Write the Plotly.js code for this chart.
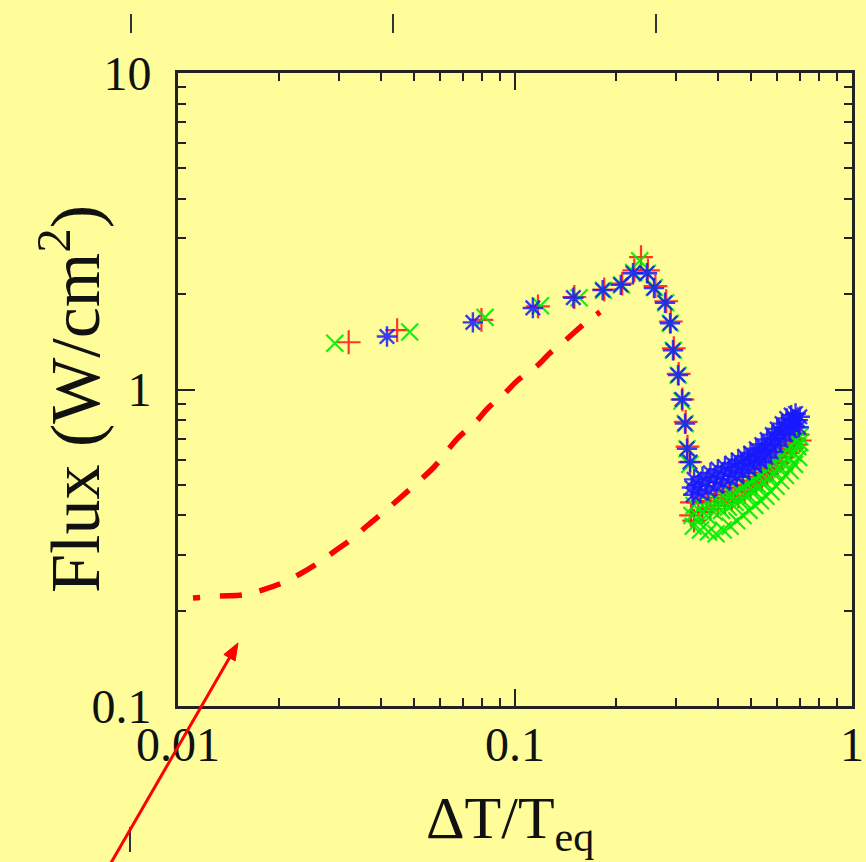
<!DOCTYPE html>
<html>
<head>
<meta charset="utf-8">
<script src="https://cdn.plot.ly/plotly-3.0.1.min.js"></script>
<style>html,body{margin:0;padding:0;background:#FFFD9A;}</style>
</head>
<body>
<div id="chart" style="width:866px;height:862px;"></div>
<script>
// ---- data ----
// curve part (rising branch, peak, steep drop) followed by the dense low-flux cluster
const redX = [0.0321,0.0447,0.0795,0.117,0.150,0.184,0.208,0.226,0.2365,0.248,0.261,0.281,0.290,0.296,0.306,0.314,0.321,0.325,0.331,
  0.335,0.35,0.37,0.39,0.41,0.43,0.45,0.47,0.49,0.51,0.53,0.55,0.57,0.59,0.61,0.63,0.65,0.67,0.69,
  0.333,0.34,0.36,0.38,0.40,0.42,0.44,0.46,0.48,0.50,0.52,0.54,0.56,0.58,0.60,0.62,0.64,0.66,0.68,0.70];
const redY = [1.41,1.54,1.66,1.83,1.96,2.07,2.16,2.38,2.62,2.38,2.12,1.90,1.64,1.35,1.12,0.93,0.79,0.66,0.59,
  0.44,0.44,0.445,0.455,0.465,0.475,0.49,0.50,0.515,0.53,0.545,0.565,0.585,0.61,0.635,0.66,0.68,0.70,0.72,
  0.40,0.385,0.41,0.42,0.43,0.44,0.45,0.46,0.475,0.49,0.505,0.52,0.54,0.56,0.585,0.61,0.63,0.65,0.67,0.69];

const greenX = [0.0292,0.0487,0.0815,0.119,0.155,0.183,0.207,0.225,0.2345,0.247,0.259,0.280,0.289,0.295,0.305,0.313,0.320,0.324,0.330,
  0.335,0.35,0.37,0.39,0.41,0.43,0.45,0.47,0.49,0.51,0.53,0.55,0.57,0.59,0.61,0.63,0.65,0.67,0.69,0.70,
  0.34,0.36,0.38,0.40,0.42,0.44,0.46,0.48,0.50,0.52,0.54,0.56,0.58,0.60,0.62,0.64,0.66,0.68,0.70,
  0.338,0.355,0.375,0.395,0.415,0.435,0.455,0.475,0.495,0.515,0.535,0.555,0.575,0.595,0.615,0.635,0.655,0.675,0.695];
const greenY = [1.40,1.52,1.69,1.84,1.95,2.06,2.14,2.34,2.55,2.33,2.10,1.88,1.62,1.33,1.11,0.92,0.78,0.65,0.58,
  0.40,0.395,0.40,0.41,0.415,0.425,0.44,0.45,0.465,0.48,0.495,0.51,0.53,0.55,0.57,0.59,0.61,0.63,0.66,0.68,
  0.43,0.43,0.435,0.445,0.455,0.465,0.48,0.495,0.51,0.525,0.54,0.56,0.58,0.60,0.62,0.645,0.665,0.69,0.71,
  0.37,0.36,0.355,0.35,0.36,0.37,0.385,0.40,0.415,0.43,0.445,0.46,0.475,0.495,0.515,0.535,0.555,0.58,0.61];

const blueX = [0.0417,0.075,0.113,0.149,0.182,0.206,0.224,0.2464,0.2585,0.2787,0.2884,0.2943,0.3046,0.3130,0.3195,0.3239,0.3306,
  0.335,0.35,0.37,0.39,0.41,0.43,0.45,0.47,0.49,0.51,0.53,0.55,0.57,0.59,0.61,0.63,0.65,0.67,0.69,
  0.340,0.36,0.38,0.40,0.42,0.44,0.46,0.48,0.50,0.52,0.54,0.56,0.58,0.60,0.62,0.64,0.66,0.68,0.70,
  0.338,0.355,0.375,0.395,0.415,0.435,0.455,0.475,0.495,0.515,0.535,0.555,0.575,0.595,0.615,0.635,0.655,0.675,0.695];
const blueY = [1.47,1.63,1.81,1.95,2.06,2.14,2.33,2.33,2.09,1.88,1.62,1.33,1.11,0.93,0.78,0.65,0.59,
  0.49,0.50,0.51,0.525,0.535,0.55,0.565,0.58,0.595,0.61,0.625,0.645,0.67,0.70,0.73,0.76,0.78,0.80,0.80,
  0.52,0.53,0.545,0.56,0.57,0.585,0.60,0.615,0.63,0.65,0.67,0.695,0.72,0.75,0.78,0.81,0.83,0.84,0.82,
  0.465,0.47,0.48,0.495,0.505,0.52,0.53,0.545,0.56,0.575,0.59,0.61,0.635,0.665,0.69,0.72,0.74,0.76,0.76];

const modelX = [0.01108,0.01332,0.01548,0.01776,0.02035,0.02301,0.02602,0.02922,0.03306,0.03663,0.04113,0.04558,0.05119,0.05789,0.06776,0.07607,0.08316,0.0934,0.1021,0.1162,0.1270,0.1437,0.1591,0.1788];
const modelY = [0.2194,0.2227,0.2243,0.2325,0.2446,0.2613,0.2830,0.3089,0.3395,0.3731,0.4131,0.4543,0.5066,0.5732,0.7029,0.7837,0.8740,0.9748,1.0715,1.1863,1.3041,1.4545,1.5991,1.7578];

const xTickVals = [0.01, 0.1, 1];
const xTickText = ['0.01', '0.1', '1'];
const yTickVals = [0.1, 1, 10];
const yTickText = ['0.1', '1', '10'];
const xTitle = 'ΔT/T<sub>eq</sub>';
const yTitle = 'Flux (W/cm<sup>2</sup>)';

// ---- styling ----
const BG = '#FFFD9A';
const FONT = 'Liberation Serif, Times New Roman, serif';
const msize = 17;

const dashParts = ['7px', '20px'];
for (let i = 0; i < 16; i++) { dashParts.push('22px', '18px'); }

const traces = [
  {x: redX, y: redY, type: 'scatter', mode: 'markers', name: 'red',
   marker: {symbol: 'cross-thin-open', size: msize, color: 'rgba(255,20,20,0.85)', line: {width: 2.2, color: 'rgba(255,20,20,0.85)'}}},
  {x: greenX, y: greenY, type: 'scatter', mode: 'markers', name: 'green',
   marker: {symbol: 'x-thin-open', size: msize, color: 'rgba(0,235,0,0.9)', line: {width: 2.2, color: 'rgba(0,235,0,0.9)'}}},
  {x: blueX, y: blueY, type: 'scatter', mode: 'markers', name: 'blue',
   marker: {symbol: 'asterisk-open', size: msize, color: 'rgba(25,25,255,0.85)', line: {width: 2.4, color: 'rgba(25,25,255,0.85)'}}},
  {x: modelX, y: modelY, type: 'scatter', mode: 'lines', name: 'model',
   line: {color: '#FF0000', width: 5.5, dash: dashParts.join(','), shape: 'spline'}}
];

const axisCommon = {
  type: 'log',
  showgrid: false, zeroline: false,
  showline: true, linecolor: '#222', linewidth: 3, mirror: 'allticks',
  ticks: 'inside', ticklen: 17, tickwidth: 2, tickcolor: '#222',
  tickfont: {family: FONT, size: 48, color: '#111'},
  minor: {ticks: 'inside', ticklen: 8, tickwidth: 2, tickcolor: '#222', dtick: 'D1', showgrid: false}
};

// plot area: x 178..852 px, y 73..706 px -> paper coords
const px = v => (v - 178) / 674;
const py = v => (706 - v) / 633;

const tickShape = (x, y0, y1) => ({type: 'line', xref: 'paper', yref: 'paper',
  x0: px(x), x1: px(x), y0: py(y0), y1: py(y1), line: {color: '#333', width: 2}});

// arrow: tail off-canvas bottom-left, tip near (238,643)
const tail = [108, 868], tip = [238, 643];
const dxv = tip[0] - tail[0], dyv = tip[1] - tail[1];
const L = Math.hypot(dxv, dyv), ux = dxv / L, uy = dyv / L;
const headLen = 17, headHalf = 6.5;
const base = [tip[0] - headLen * ux, tip[1] - headLen * uy];
const c1 = [base[0] - headHalf * uy, base[1] + headHalf * ux];
const c2 = [base[0] + headHalf * uy, base[1] - headHalf * ux];

const layout = {
  width: 866, height: 862,
  margin: {l: 178, r: 14, t: 73, b: 156},
  paper_bgcolor: BG, plot_bgcolor: BG,
  showlegend: false,
  xaxis: Object.assign({}, axisCommon, {
    range: [-2, 0], tickmode: 'array', tickvals: xTickVals, ticktext: xTickText, ticklabelstandoff: -6
  }),
  yaxis: Object.assign({}, axisCommon, {
    range: [-1, 1], tickmode: 'array', tickvals: yTickVals, ticktext: yTickText, ticklabelstandoff: 14
  }),
  shapes: [
    tickShape(131, 14, 33),
    tickShape(393, 14, 33),
    tickShape(656, 14, 33),
    tickShape(130, 827, 852),
    {type: 'line', xref: 'paper', yref: 'paper', x0: px(tail[0]), y0: py(tail[1]), x1: px(base[0] + 2 * ux), y1: py(base[1] + 2 * uy),
     line: {color: '#FF0000', width: 3}},
    {type: 'path', xref: 'paper', yref: 'paper',
     path: `M ${px(tip[0])},${py(tip[1])} L ${px(c1[0])},${py(c1[1])} L ${px(c2[0])},${py(c2[1])} Z`,
     fillcolor: '#FF0000', line: {color: '#FF0000', width: 1}}
  ],
  annotations: [
    {text: xTitle, xref: 'paper', yref: 'paper', x: px(510), y: py(822), xanchor: 'center', yanchor: 'middle',
     showarrow: false, font: {family: FONT, size: 60, color: '#111'}},
    {text: yTitle, xref: 'paper', yref: 'paper', x: px(70), y: py(399), xanchor: 'center', yanchor: 'middle',
     textangle: -90, showarrow: false, font: {family: FONT, size: 70, color: '#111'}}
  ]
};

Plotly.newPlot('chart', traces, layout, {displayModeBar: false, staticPlot: true});
</script>
</body>
</html>
